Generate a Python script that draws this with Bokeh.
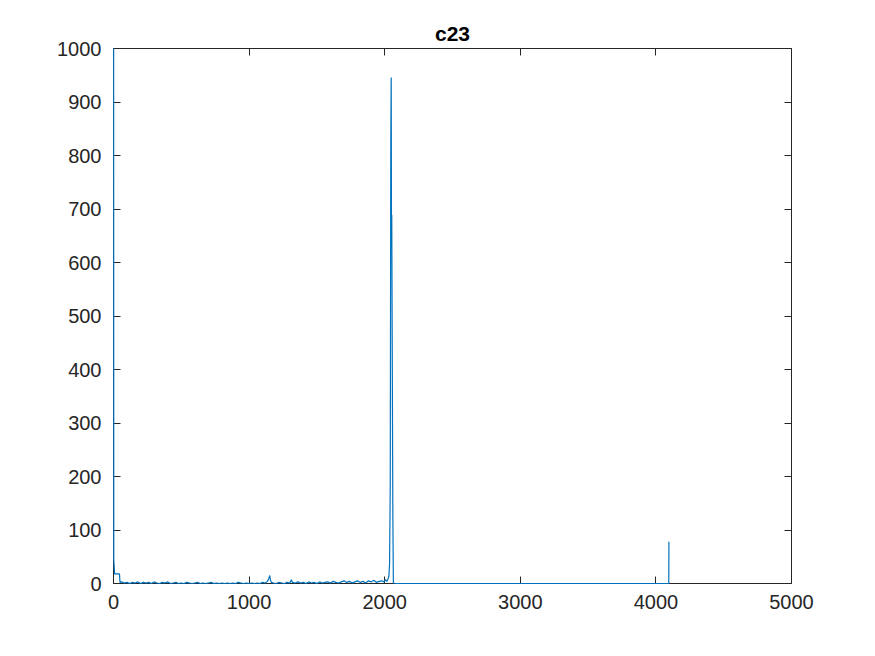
from bokeh.plotting import figure
from bokeh.models import LinearAxis, FixedTicker, Range1d
from bokeh.embed import file_html
from bokeh.resources import INLINE

# ---- data ----
sample_idx = [1, 2, 8, 44, 48,
              60, 80, 100, 120, 140, 160, 180, 200, 220, 240,
              260, 280, 300, 320, 340, 360, 380, 400, 420, 440,
              460, 480, 500, 520, 540, 560, 580, 600, 620, 640,
              660, 680, 700, 720, 740, 760, 780, 800, 820, 840,
              860, 880, 900, 920, 940, 960, 980, 1000, 1020, 1040,
              1060, 1080, 1100, 1120, 1135, 1145, 1152, 1158, 1165, 1180,
              1200, 1220, 1240, 1260, 1280, 1300, 1312, 1320, 1340, 1360,
              1380, 1400, 1420, 1440, 1460, 1480, 1500, 1520, 1540, 1560,
              1580, 1600, 1620, 1640, 1660, 1680, 1700, 1720, 1740, 1760,
              1780, 1800, 1820, 1840, 1860, 1880, 1900, 1920, 1940, 1960,
              1980, 1995, 2005, 2015, 2025, 2031, 2036, 2041, 2045, 2048,
              2050, 2052, 2060, 2064, 2080, 4095, 4096]
counts = [1000, 45, 18, 18, 2,
          3, 1, 2, 0, 2, 1, 3, 0, 2, 1,
          2, 0, 3, 1, 0, 2, 1, 3, 0, 1,
          2, 0, 1, 0, 2, 1, 0, 1, 2, 0,
          1, 0, 1, 2, 0, 1, 0, 1, 0, 1,
          0, 1, 0, 2, 1, 0, 1, 0, 1, 0,
          1, 0, 2, 1, 4, 9, 15, 6, 2, 1,
          0, 2, 1, 0, 2, 1, 7, 2, 1, 3,
          1, 2, 0, 3, 1, 2, 0, 3, 1, 2,
          3, 1, 4, 2, 1, 3, 5, 2, 4, 1,
          3, 5, 2, 4, 1, 5, 3, 6, 2, 4,
          5, 3, 7, 4, 9, 14, 37, 190, 826, 946,
          655, 689, 133, 1, 0, 0, 78]

x_ticks = [0, 1000, 2000, 3000, 4000, 5000]
y_ticks = [0, 100, 200, 300, 400, 500, 600, 700, 800, 900, 1000]
title_text = "c23"

AX = "#262626"
FONT = "Liberation Sans"

p = figure(width=859, height=640, output_backend="svg", toolbar_location=None,
           x_range=Range1d(0, 5000), y_range=Range1d(0, 1000),
           min_border_left=113, min_border_right=68,
           min_border_top=48, min_border_bottom=57,
           background_fill_color="white", border_fill_color="white")
p.outline_line_color = None
p.xgrid.visible = False
p.ygrid.visible = False

p.title.text = title_text
p.title.align = "center"
p.title.text_font = FONT
p.title.text_font_style = "bold"
p.title.text_font_size = "21px"
p.title.text_color = "black"
p.title.standoff = 7


def style(ax, ticks, labels=True):
    ax.ticker = FixedTicker(ticks=ticks)
    ax.axis_line_color = AX
    ax.axis_line_width = 1
    ax.major_tick_line_color = AX
    ax.major_tick_in = 7
    ax.major_tick_out = 0
    ax.minor_tick_line_color = None
    ax.major_label_text_font = FONT
    ax.major_label_text_font_size = "20px"
    ax.major_label_text_color = AX
    if not labels:
        ax.major_label_overrides = {t: "" for t in ticks}
        ax.major_label_standoff = 0


style(p.xaxis[0], x_ticks)
style(p.yaxis[0], y_ticks)
p.xaxis[0].major_label_standoff = 11
p.yaxis[0].major_label_standoff = 12

top = LinearAxis()
style(top, x_ticks, labels=False)
right = LinearAxis()
style(right, y_ticks, labels=False)
p.add_layout(top, "above")
p.add_layout(right, "right")

p.line(sample_idx, counts, line_color="#0072BD", line_width=1.2, level="overlay")

open("out.html", "w").write(file_html(p, INLINE))
